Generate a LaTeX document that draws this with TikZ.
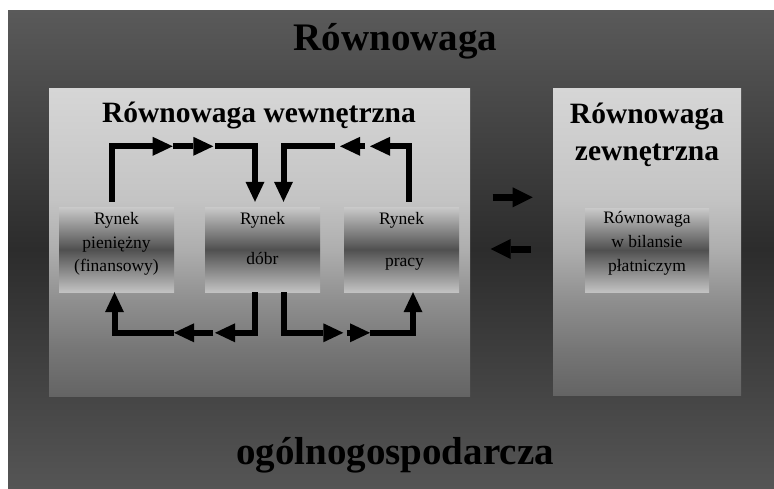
\documentclass[tikz,border=0pt]{standalone}
\usepackage{fontspec}
\setmainfont{Liberation Serif}
\usetikzlibrary{arrows.meta}

% greys of the frame, the two panels and the market boxes
\definecolor{outertop}{HTML}{5A5A5A}
\definecolor{outermid}{HTML}{2C2C2C}
\definecolor{outerbot}{HTML}{555555}
\definecolor{panelA}{HTML}{D6D6D6}
\definecolor{panelB}{HTML}{C4C4C4}
\definecolor{panelC}{HTML}{ADADAD}
\definecolor{panelD}{HTML}{8F8F8F}
\definecolor{panelE}{HTML}{767676}
\definecolor{panelF}{HTML}{646464}
\definecolor{marktop}{HTML}{CACACA}
\definecolor{markmid}{HTML}{505050}
\definecolor{markbot}{HTML}{C2C2C2}

% light at the top, darker towards the bottom
\pgfdeclareverticalshading{panelshade}{100bp}{%
  color(0bp)=(panelF); color(25bp)=(panelF); color(32.5bp)=(panelE);
  color(40.5bp)=(panelD); color(48.5bp)=(panelC); color(57bp)=(panelB);
  color(75bp)=(panelA); color(100bp)=(panelA)}

\begin{document}
\begin{tikzpicture}[x=1pt,y=-1pt,
  frame/.style={rectangle, inner sep=0pt, draw=none, shade,
    top color=outertop, bottom color=outerbot, middle color=outermid},
  panel/.style={rectangle, inner sep=0pt, draw=none, shade, shading=panelshade},
  market/.style={rectangle, inner sep=0pt, draw=none,
    minimum width=115pt, minimum height=85pt,
    top color=marktop, bottom color=markbot, middle color=markmid},
  headline/.style={font=\fontsize{39}{44}\selectfont\bfseries, anchor=base, inner sep=0pt},
  subhead/.style={font=\fontsize{29.5}{34}\selectfont\bfseries, anchor=base, inner sep=0pt},
  marktext/.style={font=\fontsize{17.5}{20}\selectfont, anchor=base, inner sep=0pt},
  flow/.style={line width=6pt, line join=miter,
    -{Triangle[width=19pt,length=20pt,line width=0pt]}},
  bigflow/.style={line width=7pt,
    -{Triangle[width=20pt,length=20pt,line width=0pt]}}]

\useasboundingbox (0,0) rectangle (774,488);
\fill[white] (0,0) rectangle (774,488);

% background frame and the two panels
\node[frame, minimum width=766pt, minimum height=478pt] (frame) at (391,249) {};
\node[panel, minimum width=421pt, minimum height=308pt] (inner) at (259.5,242) {};
\node[panel, minimum width=188pt, minimum height=307pt] (outer) at (647,241.5) {};

% titles
\node[headline] (ttop) at (395.5,50) {Równowaga};
\node[headline] (tbot) at (395,464) {ogólnogospodarcza};
\node[subhead] (innertitle) at (259,122) {Równowaga wewnętrzna};
\node[subhead] (outertitleA) at (647,123) {Równowaga};
\node[subhead] (outertitleB) at (647,160) {zewnętrzna};

% markets
\node[market] (money) at (116.5,249.5) {};
\node[market] (goods) at (262.5,249.5) {};
\node[market] (labour) at (401.5,249.5) {};
\node[market, minimum width=124pt, minimum height=84pt] (bop) at (647,250) {};

\node[marktext] (moneyA) at (116.5,224) {Rynek};
\node[marktext] (moneyB) at (116.5,248) {pieniężny};
\node[marktext] (moneyC) at (116.5,271) {(finansowy)};
\node[marktext] (goodsA) at (262.5,224) {Rynek};
\node[marktext] (goodsB) at (262.5,264.5) {dóbr};
\node[marktext] (labourA) at (401.5,224) {Rynek};
\node[marktext] (labourB) at (404.5,266) {pracy};
\node[marktext] (bopA) at (647,223.3) {Równowaga};
\node[marktext] (bopB) at (647,247.7) {w bilansie};
\node[marktext] (bopC) at (647,271) {płatniczym};

% break points of the upper flows
\coordinate (a1) at (172.7,146.3);
\coordinate (a2) at (213.3,146.3);
\coordinate (a3) at (215,146.3);
\coordinate (b1) at (370,146.3);
\coordinate (b2) at (365,146.3);
\coordinate (b3) at (340,146.3);
\coordinate (b4) at (335,146.3);

\draw[flow] ([xshift=-4.5pt,yshift=5pt]money.north) |- (a1);
\draw[flow] (a1) -- (a2);
\draw[flow] (a3) -| ([xshift=-7.5pt,yshift=5pt]goods.north);

\draw[flow] ([xshift=7pt,yshift=5pt]labour.north) |- (b1);
\draw[flow] (b2) -- (b3);
\draw[flow] (b4) -| ([xshift=21pt,yshift=5pt]goods.north);

% break points of the lower flows
\coordinate (c1) at (215,332.8);
\coordinate (c2) at (213.3,332.8);
\coordinate (c3) at (174,332.8);
\coordinate (d1) at (343.3,332.8);
\coordinate (d2) at (346.7,332.8);
\coordinate (d3) at (370,332.8);

\draw[flow] ([xshift=-7.5pt]goods.south) |- (c1);
\draw[flow] (c2) -- (c3);
\draw[flow] (c3) -| ([xshift=-2pt]money.south);

\draw[flow] ([xshift=21pt]goods.south) |- (d1);
\draw[flow] (d2) -- (d3);
\draw[flow] (d3) -| ([xshift=11.5pt]labour.south);

% exchange between the internal and the external balance
\coordinate (e1) at (492.7,197.3);
\coordinate (e2) at (532.7,197.3);
\coordinate (f1) at (531,249);
\coordinate (f2) at (490.7,249);
\draw[bigflow] (e1) -- (e2);
\draw[bigflow] (f1) -- (f2);

\end{tikzpicture}
\end{document}
